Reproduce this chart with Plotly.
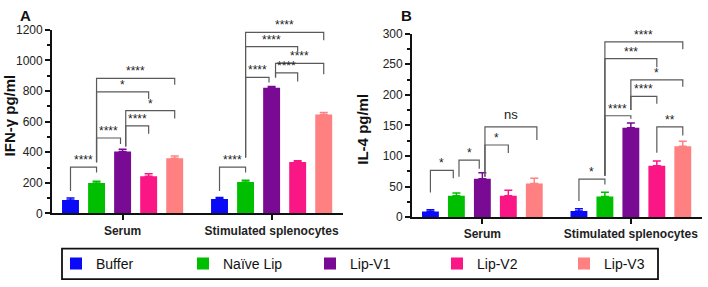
import plotly.graph_objects as go

# ---------------- data ----------------
groups = ["Serum", "Stimulated splenocytes"]
formulations = ["Buffer", "Naïve Lip", "Lip-V1", "Lip-V2", "Lip-V3"]
colors = ["#0A0AF7", "#00BE00", "#780A94", "#FA1685", "#FF8080"]

ifn_serum = [87, 199, 404, 243, 360]
ifn_serum_err = [13, 11, 16, 17, 15]
ifn_stim = [95, 205, 821, 336, 647]
ifn_stim_err = [9, 12, 9, 9, 13]

il4_serum = [9.3, 35, 63, 35, 55]
il4_serum_err = [2.7, 4.5, 9.5, 9, 8.5]
il4_stim = [10, 34, 146, 84, 116]
il4_stim_err = [4, 7, 8, 8, 8]

# significance brackets: (group, bar_a, bar_b, top, left_foot, right_foot, label, dx_a, dx_b)
ifn_brackets = [
    (0, 0, 1, 303, 147, 267, "****", 0, 0),
    (0, 1, 2, 493, 334, 454, "****", 0, -0.08),
    (0, 1, 3, 794, 334, 748, "*", 0, 0),
    (0, 1, 4, 883, 334, 841, "****", 0, 0),
    (0, 2, 4, 672, 437, 620, "*", 0.12, 0),
    (0, 2, 3, 572, 437, 520, "****", 0.12, 0),
    (1, 0, 1, 303, 147, 267, "****", 0, 0),
    (1, 1, 2, 889, 365, 856, "****", 0, -0.1),
    (1, 1, 3, 1090, 365, 1059, "****", 0, 0),
    (1, 1, 4, 1183, 365, 1132, "****", 0, 0),
    (1, 2, 4, 981, 889, 910, "****", 0.15, 0),
    (1, 2, 3, 918, 889, 862, "****", 0.15, 0),
]
il4_brackets = [
    (0, 0, 1, 76.6, 40.4, 63.7, "*", 0, -0.12),
    (0, 1, 2, 93.2, 66.3, 79.3, "*", 0.1, -0.12),
    (0, 2, 3, 118, 66, 105, "*", 0.1, 0),
    (0, 2, 4, 147.6, 66, 126, "ns", 0.1, 0.1),
    (1, 0, 1, 62.2, 26.4, 53.3, "*", 0, 0),
    (1, 1, 2, 165.8, 67.9, 161, "****", 0, 0),
    (1, 1, 3, 259, 67.9, 245, "***", 0, 0),
    (1, 1, 4, 286.4, 67.9, 274.6, "****", 0, 0),
    (1, 2, 4, 224.3, 175, 213, "*", 0, 0),
    (1, 2, 3, 197.4, 175, 185.4, "****", 0, 0),
    (1, 3, 4, 147.6, 105.2, 133.6, "**", 0, 0),
]

GROUP_START = [0.0, 5.72]
W, H = 708, 287
FONT = "Liberation Sans, Arial, Helvetica, sans-serif"


def xpos(g, i):
    return GROUP_START[g] + i


def px_x(v):
    return v / W


def px_y(v):
    return 1 - v / H


fig = go.Figure()
annotations = []

panels = [
    ("x", "y", ifn_serum, ifn_serum_err, ifn_stim, ifn_stim_err, ifn_brackets),
    ("x2", "y2", il4_serum, il4_serum_err, il4_stim, il4_stim_err, il4_brackets),
]

for p, (xa, ya, ser, ser_e, sti, sti_e, brackets) in enumerate(panels):
    for i, name in enumerate(formulations):
        fig.add_trace(go.Bar(
            x=[xpos(0, i), xpos(1, i)],
            y=[ser[i], sti[i]],
            width=0.65,
            name=name,
            legendgroup=name,
            showlegend=(p == 0),
            marker=dict(color=colors[i], line=dict(width=0)),
            error_y=dict(type="data", array=[ser_e[i], sti_e[i]], arrayminus=[0, 0],
                         symmetric=False, color=colors[i], thickness=1.5, width=4),
            xaxis=xa, yaxis=ya,
        ))
    for (g, a, b, top, lf, rf, lab, dxa, dxb) in brackets:
        xl = xpos(g, a) + dxa
        xr = xpos(g, b) + dxb
        fig.add_trace(go.Scatter(
            x=[xl, xl, xr, xr], y=[lf, top, top, rf], mode="lines",
            line=dict(color="#5a5a5a", width=1.2), hoverinfo="skip",
            showlegend=False, cliponaxis=False, xaxis=xa, yaxis=ya,
        ))
        annotations.append(dict(
            x=(xl + xr) / 2, y=top, xref=xa, yref=ya, text=lab, showarrow=False,
            xanchor="center", yanchor="bottom", yshift=(3 if lab == "ns" else -2),
            font=dict(size=(13 if lab == "ns" else 12), color="#222", family=FONT),
        ))

xaxis_common = dict(
    range=[-0.71, 10.46], tickvals=[xpos(0, 2), xpos(1, 2)], ticktext=groups,
    ticks="outside", ticklen=5, tickwidth=1.5, tickcolor="#111",
    showline=True, linecolor="#111", linewidth=1.6, showgrid=False, zeroline=False,
    tickfont=dict(size=12, family=FONT, color="#222", weight="bold"),
)
yaxis_common = dict(
    ticks="outside", ticklen=5, tickwidth=1.5, tickcolor="#111",
    showline=True, linecolor="#111", linewidth=1.8, showgrid=False, zeroline=False,
    tickfont=dict(size=12, family=FONT, color="#222"),
)

fig.update_layout(
    width=W, height=H, margin=dict(l=0, r=0, t=0, b=0),
    paper_bgcolor="white", plot_bgcolor="white", barmode="overlay",
    font=dict(family=FONT, color="#222"),
    xaxis=dict(domain=[px_x(52), px_x(343)], anchor="y", **xaxis_common),
    xaxis2=dict(domain=[px_x(412), px_x(702)], anchor="y2", **xaxis_common),
    yaxis=dict(domain=[px_y(217), px_y(24)], anchor="x", range=[0, 1200], dtick=200,
               minor=dict(dtick=100, ticks="outside", ticklen=3, tickcolor="#111"),
               **yaxis_common),
    yaxis2=dict(domain=[px_y(221), px_y(28)], anchor="x2", range=[0, 300], dtick=50,
                minor=dict(dtick=25, ticks="outside", ticklen=3, tickcolor="#111"),
                **yaxis_common),
    legend=dict(orientation="h", x=px_x(56), xanchor="left", y=px_y(270), yanchor="middle",
                entrywidth=82, entrywidthmode="pixels", bgcolor="rgba(0,0,0,0)",
                borderwidth=0, font=dict(size=14, family=FONT, color="#111"),
                traceorder="normal"),
    shapes=[dict(type="rect", xref="paper", yref="paper",
                 x0=px_x(62), x1=px_x(658), y0=px_y(286), y1=px_y(254),
                 line=dict(color="#111", width=1.8))],
)

annotations += [
    dict(x=px_x(25), y=px_y(9), xref="paper", yref="paper", text="<b>A</b>",
         xanchor="center", yanchor="middle",
         showarrow=False, font=dict(size=15, family=FONT, color="#111")),
    dict(x=px_x(406), y=px_y(9), xref="paper", yref="paper", text="<b>B</b>",
         xanchor="center", yanchor="middle",
         showarrow=False, font=dict(size=15, family=FONT, color="#111")),
    dict(x=px_x(9), y=px_y(114), xref="paper", yref="paper", text="<b>IFN-γ pg/ml</b>",
         xanchor="center", yanchor="middle",
         textangle=-90, showarrow=False, font=dict(size=15, family=FONT, color="#111")),
    dict(x=px_x(363), y=px_y(129), xref="paper", yref="paper", text="<b>IL-4 pg/ml</b>",
         xanchor="center", yanchor="middle",
         textangle=-90, showarrow=False, font=dict(size=15, family=FONT, color="#111")),
]
fig.update_layout(annotations=annotations)

fig.write_html("out.html", config={"displayModeBar": False},
               post_script="document.body.style.margin='0px';")
